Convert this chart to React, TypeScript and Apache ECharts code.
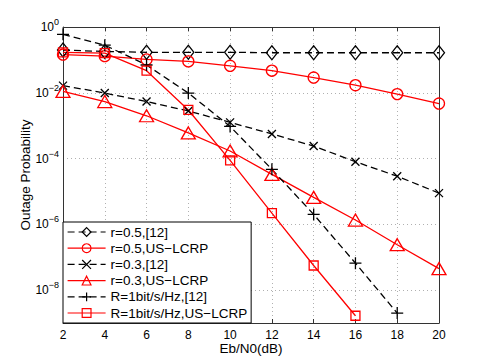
import React, { useEffect, useRef } from "react";
import * as echarts from "echarts";

const xs = [2, 4, 6, 8, 10, 12, 14, 16, 18, 20];
const xTicks = [2, 4, 6, 8, 10, 12, 14, 16, 18, 20];
const yExponents = [0, -2, -4, -6, -8];

const seriesNames = [
  "r=0.5,[12]",
  "r=0.5,US\u2212LCRP",
  "r=0.3,[12]",
  "r=0.3,US\u2212LCRP",
  "R=1bit/s/Hz,[12]",
  "R=1bit/s/Hz,US\u2212LCRP",
];

const r05Ref = [0.2, 0.18, 0.17, 0.17, 0.17, 0.165, 0.165, 0.165, 0.165, 0.165];
const r05Us = [0.145, 0.13, 0.103, 0.09, 0.066, 0.047, 0.029, 0.017, 0.0091, 0.0047];
const r03Ref = [0.0165, 0.0098, 0.0054, 0.0028, 0.00126, 5.6e-4, 2.4e-4, 8e-5, 2.9e-5, 8.9e-6];
const r03Us = [0.011, 0.0054, 0.002, 6e-4, 1.7e-4, 3.3e-5, 6.6e-6, 1.35e-6, 2.4e-7, 4.5e-8];
const r1Ref = [0.6, 0.28, 0.07, 0.0098, 9.5e-4, 4.7e-5, 2e-6, 6.6e-8, 2.0e-9];
const r1Us = [0.17, 0.16, 0.047, 0.003, 8.8e-5, 2.2e-6, 5.6e-8, 1.66e-9];

const RED = "#ff0000";
const BLACK = "#000000";
const FONT = "Liberation Sans, Arial, Helvetica, sans-serif";

const X_PATH = "path://M0,0L10,10M10,0L0,10";
const PLUS_PATH = "path://M5,0L5,10M0,5L10,5";

function pairs(vals: number[]) {
  return vals.map((v, i) => [xs[i], v]);
}

function mkSeries(
  name: string,
  vals: number[],
  color: string,
  dashed: boolean,
  symbol: string,
  size: number | number[]
) {
  return {
    name,
    type: "line",
    data: pairs(vals),
    symbol,
    symbolSize: size,
    showAllSymbol: true,
    lineStyle: { color, width: 1.3, type: dashed ? [7, 4] : "solid" },
    itemStyle: { color: "none", borderColor: color, borderWidth: 1.3 },
    emphasis: { disabled: true },
  };
}

export default function App() {
  const ref = useRef<HTMLDivElement>(null);

  useEffect(() => {
    if (!ref.current) return;
    const chart = echarts.init(ref.current, null, { renderer: "svg" });
    const yLabel = (v: number) => {
      const e = Math.round(Math.log10(v));
      if (!yExponents.includes(e)) return "";
      return `{b|10}{s|${e < 0 ? "\u2212" : ""}${Math.abs(e)}}`;
    };
    chart.setOption({
      animation: false,
      backgroundColor: "#ffffff",
      textStyle: { fontFamily: FONT },
      grid: { left: 63, right: 46, top: 27, bottom: 41, containLabel: false },
      legend: {
        data: seriesNames,
        orient: "vertical",
        left: 63,
        bottom: 41,
        padding: [3, 4, 3, 4],
        itemWidth: 38,
        itemHeight: 11,
        itemGap: 2.2,
        backgroundColor: "#ffffff",
        borderColor: "#000000",
        borderWidth: 1,
        borderRadius: 0,
        itemStyle: { borderWidth: 1.2 },
        lineStyle: { width: 1.2 },
        textStyle: { fontSize: 13.5, color: "#000", fontFamily: FONT, lineHeight: 14 },
      },
      xAxis: [
        {
          type: "value",
          min: 2,
          max: 20,
          interval: 2,
          name: "Eb/N0(dB)",
          nameLocation: "middle",
          nameGap: 18,
          nameMoveOverlap: false,
          nameTextStyle: { fontSize: 13.5, color: "#000", fontFamily: FONT, lineHeight: 14 },
          axisLine: { show: true, lineStyle: { color: "#333", width: 1 } },
          axisTick: { show: true, inside: true, length: 4, lineStyle: { color: "#333" } },
          axisLabel: {
            fontSize: 12,
            lineHeight: 12,
            color: "#000",
            margin: 6,
            fontFamily: FONT,
            formatter: (v: number) => (xTicks.includes(v) ? String(v) : ""),
          },
          splitLine: { show: true, lineStyle: { color: "#b0b0b0", type: [1, 3], width: 1 } },
        },
        {
          type: "value",
          position: "top",
          min: 2,
          max: 20,
          interval: 2,
          axisLine: { show: true, lineStyle: { color: "#333", width: 1 } },
          axisTick: { show: true, inside: true, length: 4, lineStyle: { color: "#333" } },
          axisLabel: { show: false },
          splitLine: { show: false },
        },
      ],
      yAxis: [
        {
          type: "log",
          logBase: 10,
          min: 1e-9,
          max: 1,
          name: "Outage Probability",
          nameLocation: "middle",
          nameGap: 31,
          nameMoveOverlap: false,
          nameTextStyle: { fontSize: 13.5, color: "#000", fontFamily: FONT },
          axisLine: { show: true, lineStyle: { color: "#333", width: 1 } },
          axisTick: { show: false },
          axisLabel: {
            margin: 4,
            color: "#000",
            fontFamily: FONT,
            formatter: yLabel,
            rich: {
              b: { fontSize: 12, color: "#000", fontFamily: FONT },
              s: { fontSize: 9, color: "#000", fontFamily: FONT, padding: [0, 0, 10, 0] },
            },
          },
          splitLine: {
            show: true,
            lineStyle: { color: ["rgba(0,0,0,0)", "#b0b0b0"], type: [1, 3], width: 1 },
          },
        },
        {
          type: "log",
          logBase: 10,
          min: 1e-9,
          max: 1,
          position: "right",
          axisLine: { show: true, lineStyle: { color: "#333", width: 1 } },
          axisTick: { show: false },
          axisLabel: { show: false },
          splitLine: { show: false },
        },
      ],
      series: [
        mkSeries(seriesNames[0], r05Ref, BLACK, true, "diamond", [11, 14]),
        mkSeries(seriesNames[1], r05Us, RED, false, "circle", 11),
        mkSeries(seriesNames[2], r03Ref, BLACK, true, X_PATH, 8),
        mkSeries(seriesNames[3], r03Us, RED, false, "triangle", [14, 12]),
        mkSeries(seriesNames[4], r1Ref, BLACK, true, PLUS_PATH, 12),
        mkSeries(seriesNames[5], r1Us, RED, false, "rect", 9),
      ],
    });
    return () => chart.dispose();
  }, []);

  return (
    <div
      ref={ref}
      style={{ position: "absolute", left: 0, top: 0, width: 485, height: 364, background: "#fff" }}
    />
  );
}
